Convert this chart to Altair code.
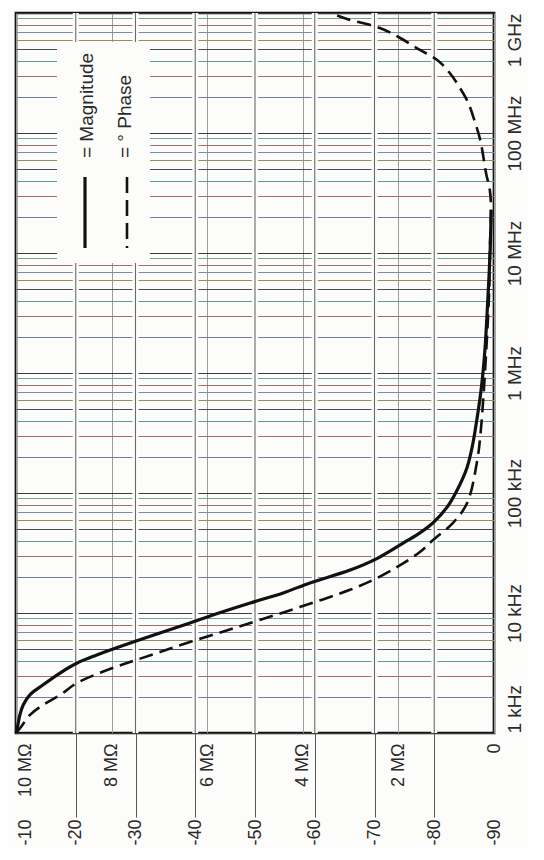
import altair as alt
import pandas as pd

# ---------------- data ----------------
mag_freq = [1000, 1170, 1410, 1710, 2080, 2510, 3160, 3830, 4470, 4920,
            5730, 6810, 8260, 9270, 12100, 14700, 17800, 22800, 28700, 39100,
            46500, 56200, 76400, 106000, 165000, 261000, 406000, 721000, 1560000, 4060000,
            10600000, 22800000]
mag_mohm = [10.0, 9.96, 9.92, 9.85, 9.71, 9.44, 9.08, 8.72, 8.31, 8.03,
            7.55, 6.99, 6.36, 6.00, 5.10, 4.41, 3.85, 3.01, 2.43, 1.86,
            1.55, 1.28, 0.98, 0.77, 0.56, 0.44, 0.36, 0.27, 0.19, 0.13,
            0.08, 0.06]

phase_freq = [1000, 1100, 1410, 1710, 2075, 2610, 3410, 3980, 4730, 5730,
              7080, 8750, 11200, 15600, 19200, 25100, 32200, 40600, 56200, 82600,
              188000, 335000, 721000, 1880000, 4920000, 10600000, 22800000, 33500000, 45500000, 87500000,
              124000000, 178000000, 237000000, 316000000, 406000000, 492000000, 619000000, 750000000, 891000000, 1000000000]
phase_deg = [-10.0, -10.7, -12.3, -14.5, -17.4, -20.2, -25.7, -29.6, -34.1, -39.1,
             -45.0, -50.8, -57.5, -65.9, -70.1, -74.3, -77.6, -79.8, -83.1, -85.5,
             -87.2, -87.8, -88.3, -88.8, -89.2, -89.3, -89.5, -89.3, -88.7, -87.7,
             -86.8, -85.7, -84.3, -82.6, -80.5, -77.6, -74.3, -70.9, -65.4, -62.6]

freq_decades = [1e3, 1e4, 1e5, 1e6, 1e7, 1e8, 1e9]
freq_labels = ["1 kHz", "10 kHz", "100 kHz", "1 MHz", "10 MHz", "100 MHz", "1 GHz"]
mag_ticks = [10, 8, 6, 4, 2, 0]
mag_labels = ["10 MΩ", "8 MΩ", "6 MΩ", "4 MΩ", "2 MΩ", "0"]
phase_ticks = [-10, -20, -30, -40, -50, -60, -70, -80, -90]
legend_labels = ["= Magnitude", "= ° Phase"]

# ---------------- styling ----------------
FONT = "Liberation Sans"
BG = "#fcfcfa"
TXT = "#2a2a2a"

grid_freqs = [m * 10 ** k for k in range(3, 9) for m in range(1, 10)] + [10 ** 9]

mant = "round(datum.value / pow(10, floor(log(datum.value) / LN10 + 1e-9)))"
mant_colors = {1: "#3c3c3c", 2: "#6d7fa6", 3: "#a36e6a", 4: "#5e9c96", 5: "#4a4a5a",
               6: "#9a8c5e", 7: "#7a8ab0", 8: "#a8706c", 9: "#6fa39a"}
grid_color = {"condition": [{"test": f"{mant} == {m}", "value": c} for m, c in mant_colors.items()],
              "value": "#555555"}


def label_expr(values, labels):
    expr = "''"
    for v, lab in reversed(list(zip(values, labels))):
        expr = f"(abs(datum.value - {v}) < {abs(v) * 1e-6 + 1e-9}) ? '{lab}' : {expr}"
    return expr


y_axis = alt.Axis(
    orient="right", values=grid_freqs, grid=True, gridColor=grid_color, gridWidth=1.1,
    domain=False, ticks=False, labelExpr=label_expr(freq_decades, freq_labels),
    labelAngle=270,
    labelAlign={"condition": [{"test": "datum.value > 9.9e8", "value": "right"},
                              {"test": "datum.value < 1001", "value": "left"}],
                "value": "center"},
    labelBaseline="top", labelPadding=11, labelFont=FONT, labelFontSize=19,
    labelColor=TXT, labelOverlap=False, labelFlush=False, title=None,
)
y_scale = alt.Scale(type="log", domain=[1e3, 1e9], nice=False)

mag_scale = alt.Scale(domain=[10, 0], nice=False, zero=False)
phase_scale = alt.Scale(domain=[-10, -90], nice=False, zero=False)

mag_axis = alt.Axis(
    orient="bottom", values=mag_ticks, labelExpr=label_expr(mag_ticks, mag_labels),
    grid=True, gridColor="#9c9c9c", gridWidth=1, domain=False, ticks=False, tickSize=0,
    labelAngle=270, labelAlign="right",
    labelBaseline={"condition": {"test": "datum.value == 10", "value": "top"}, "value": "middle"},
    labelPadding=10, labelFont=FONT, labelFontSize=18, labelColor=TXT,
    labelOverlap=False, labelFlush=False, title=None,
)
phase_axis = alt.Axis(
    orient="bottom", values=phase_ticks, labelExpr="'' + datum.value",
    grid=False, domain=False, ticks=True, tickSize=84, tickWidth=1,
    tickColor={"condition": {"test": "datum.value == -10 || datum.value == -90", "value": "transparent"},
               "value": "#555555"},
    labelAngle=270, labelAlign="right",
    labelBaseline={"condition": {"test": "datum.value == -10", "value": "top"}, "value": "middle"},
    labelPadding=2, labelFont=FONT, labelFontSize=18, labelColor=TXT,
    labelOverlap=False, labelFlush=False, title=None,
)

mag_df = pd.DataFrame({"f": mag_freq, "v": mag_mohm})
phase_df = pd.DataFrame({"f": phase_freq, "p": phase_deg})
pgrid_df = pd.DataFrame({"p": phase_ticks[1:-1]})
one = pd.DataFrame({"k": [0]})

halo = alt.Chart(pgrid_df).mark_rule(color=BG, strokeWidth=6).encode(
    x=alt.X("p:Q", scale=phase_scale, axis=phase_axis))
pgrid = alt.Chart(pgrid_df).mark_rule(color="#6a6a6a", strokeWidth=1.1).encode(
    x=alt.X("p:Q", scale=phase_scale, axis=None))

legend_box = alt.Chart(one).mark_rect(color=BG).encode(
    x=alt.value(41), x2=alt.value(134), y=alt.value(29), y2=alt.value(250))
leg_solid = alt.Chart(one).mark_rule(color="#111111", strokeWidth=3.2).encode(
    x=alt.value(69), y=alt.value(164), y2=alt.value(235))
leg_dash = alt.Chart(one).mark_rule(color="#111111", strokeWidth=2.6, strokeDash=[16, 7]).encode(
    x=alt.value(111), y=alt.value(164), y2=alt.value(235))
leg_t1 = alt.Chart(one).mark_text(angle=270, align="left", baseline="middle", font=FONT,
                                  fontSize=19, color=TXT).encode(
    x=alt.value(71), y=alt.value(145), text=alt.value(legend_labels[0]))
leg_t2 = alt.Chart(one).mark_text(angle=270, align="left", baseline="middle", font=FONT,
                                  fontSize=19, color=TXT).encode(
    x=alt.value(109), y=alt.value(145), text=alt.value(legend_labels[1]))

mag_line = alt.Chart(mag_df).mark_line(color="#111111", strokeWidth=3.2,
                                       interpolate="catmull-rom").encode(
    x=alt.X("v:Q", scale=mag_scale, axis=mag_axis),
    y=alt.Y("f:Q", scale=y_scale, axis=y_axis),
    order=alt.Order("f:Q"))
phase_line = alt.Chart(phase_df).mark_line(color="#111111", strokeWidth=2.6, strokeDash=[14, 7],
                                           interpolate="catmull-rom").encode(
    x=alt.X("p:Q", scale=phase_scale, axis=None),
    y=alt.Y("f:Q", scale=y_scale, axis=y_axis),
    order=alt.Order("f:Q"))

chart = alt.layer(
    halo, pgrid, legend_box, leg_solid, leg_dash, leg_t1, leg_t2, mag_line, phase_line
).resolve_scale(x="independent").properties(
    width=478, height=720,
    autosize=alt.AutoSizeParams(type="none"),
    padding={"left": 8, "top": 5, "right": 34, "bottom": 114},
    background=BG,
).configure_view(stroke="#111111", strokeWidth=2.7)

chart.save("out.html", embed_options={"renderer": "svg", "actions": False})
